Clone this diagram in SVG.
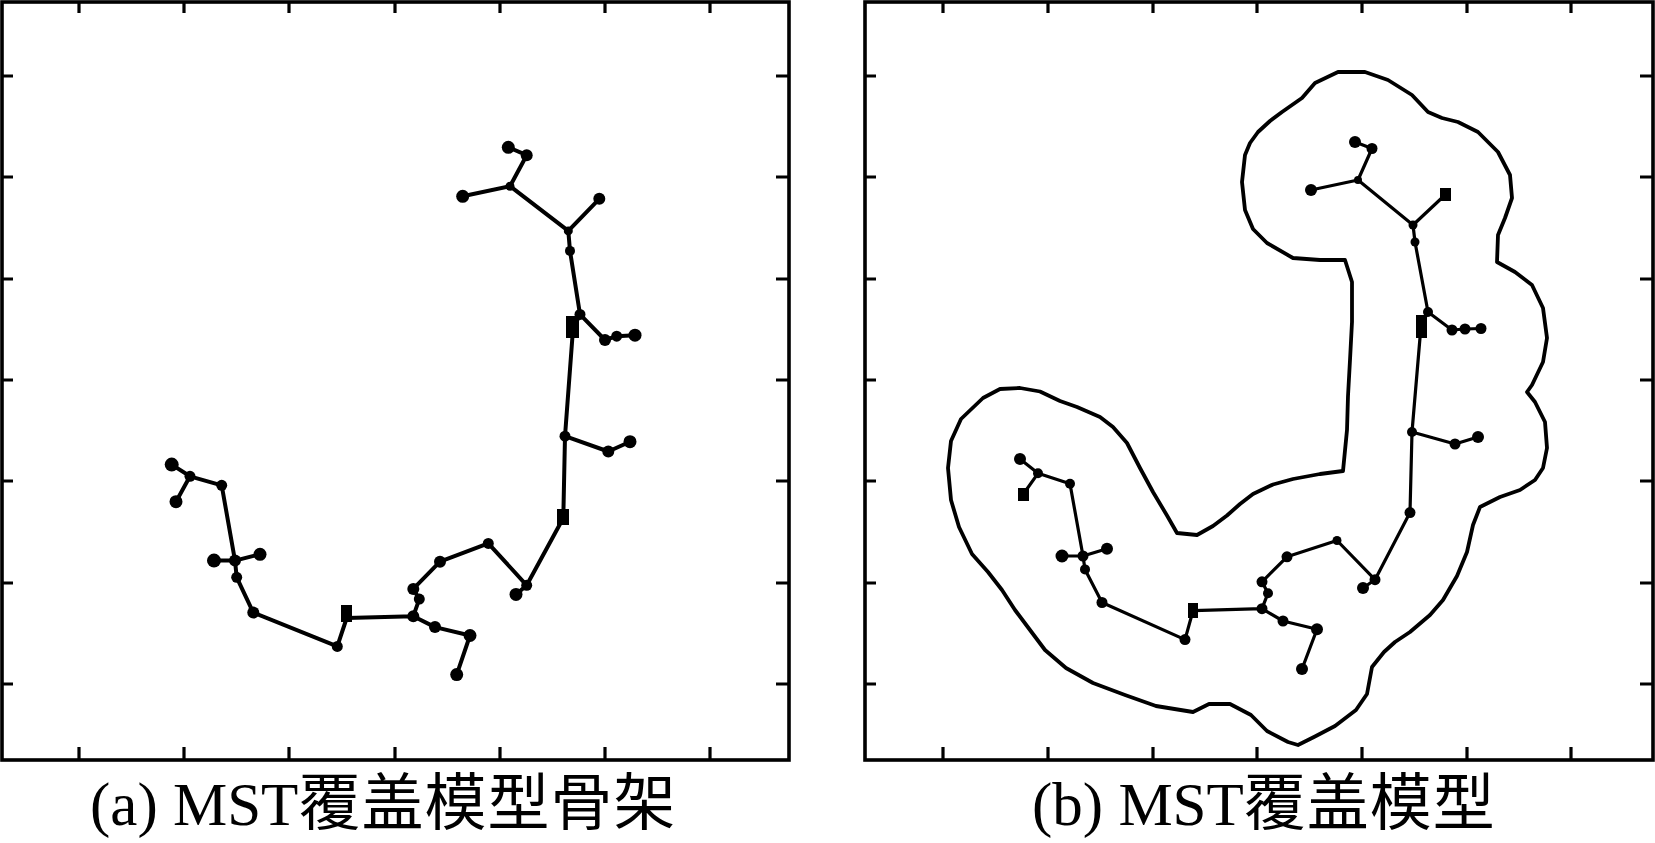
<svg xmlns="http://www.w3.org/2000/svg" width="1655" height="843" viewBox="0 0 1655 843">
<style>
.frame{fill:none;stroke:#000;stroke-width:3.6}
.tick{stroke:#000;stroke-width:3.2;fill:none}
.edge{fill:none;stroke:#000;stroke-width:4;stroke-linejoin:round;stroke-linecap:round}
.edgeb{fill:none;stroke:#000;stroke-width:3.2;stroke-linejoin:round;stroke-linecap:round}
.outline{fill:none;stroke:#000;stroke-width:3.8;stroke-linejoin:round}
.dot{fill:#000}
.cap{font-family:"Liberation Serif","Noto Sans CJK SC",serif;font-size:61px;fill:#000}
.cjk{font-family:"Noto Sans CJK SC","Liberation Serif",sans-serif;font-size:62px;letter-spacing:1px}
</style>
<rect width="1655" height="843" fill="#fff"/>

<g id="panel-a">
  <rect class="frame" x="2" y="2" width="787" height="758"/>
  <path class="tick" d="M79,760v-13M184,760v-13M289,760v-13M395,760v-13M500,760v-13M605,760v-13M710,760v-13
  M79,2v11M184,2v11M289,2v11M395,2v11M500,2v11M605,2v11M710,2v11
  M2,76h11M2,177h11M2,279h11M2,380h11M2,481h11M2,583h11M2,684h11
  M789,76h-13M789,177h-13M789,279h-13M789,380h-13M789,481h-13M789,583h-13M789,684h-13"/>
  <g id="mst-a-edges">
    <path class="edge" d="M508.3,147.3 L526.7,155.2 L510,186.2 L462.7,196.3
    M510,186.2 L568.3,230.9 L599.3,198.8
    M568.3,230.9 L570,250.9 L580,314.4 L573,329.1 L565,436.2 L563.3,518 L526.7,585.3 L516,594.4
    M580,314.4 L605,340 L616.7,336.2 L635,335.2
    M565,436.2 L608.3,451.5 L630,441.7
    M526.7,585.3 L488.3,543.4 L440,561.7 L413.3,588.9 L419.3,599.1 L413.3,616.2 L435,627.1 L470,635.5 L456.7,674.6
    M413.3,616.2 L346.7,618 L337.3,646.4 L253.3,612.6 L236.7,577.3 L235,560.6 L214,560.6
    M235,560.6 L260,554.3
    M235,560.6 L221.7,485.3 L190,476.3 L171.7,464.6
    M190,476.3 L176,501.7"/>
  </g>
  <g id="mst-a-nodes" class="dot">
    <circle cx="508.3" cy="147.3" r="6.5"/><circle cx="526.7" cy="155.2" r="6"/><circle cx="510" cy="186.2" r="4.5"/>
    <circle cx="462.7" cy="196.3" r="6.5"/><circle cx="599.3" cy="198.8" r="6"/><circle cx="568.3" cy="230.9" r="4.5"/>
    <circle cx="570" cy="250.9" r="5"/><circle cx="580" cy="314.4" r="5.5"/><rect x="566" y="316" width="13" height="22"/>
    <circle cx="605" cy="340" r="6"/><circle cx="616.7" cy="336.2" r="5.5"/><circle cx="635" cy="335.2" r="6.5"/>
    <circle cx="565" cy="436.2" r="5.5"/><circle cx="608.3" cy="451.5" r="6"/><circle cx="630" cy="441.7" r="6.5"/>
    <rect x="557" y="509" width="12" height="16"/><circle cx="526.7" cy="585.3" r="5.5"/><circle cx="516" cy="594.4" r="6.5"/>
    <circle cx="488.3" cy="543.4" r="5.5"/><circle cx="440" cy="561.7" r="6"/><circle cx="413.3" cy="588.9" r="6"/>
    <circle cx="419.3" cy="599.1" r="5.5"/><circle cx="413.3" cy="616.2" r="6"/><circle cx="435" cy="627.1" r="6"/>
    <circle cx="470" cy="635.5" r="6.5"/><circle cx="456.7" cy="674.6" r="6.5"/><rect x="341" y="605" width="11" height="17"/>
    <circle cx="337.3" cy="646.4" r="5.5"/><circle cx="253.3" cy="612.6" r="6"/><circle cx="236.7" cy="577.3" r="5.5"/>
    <circle cx="235" cy="560.6" r="6"/><circle cx="214" cy="560.6" r="7"/><circle cx="260" cy="554.3" r="6.5"/>
    <circle cx="221.7" cy="485.3" r="5.5"/><circle cx="190" cy="476.3" r="5.5"/><circle cx="171.7" cy="464.6" r="7"/>
    <circle cx="176" cy="501.7" r="6.5"/>
  </g>
</g>

<g id="panel-b">
  <rect class="frame" x="865" y="2" width="788" height="758"/>
  <path class="tick" d="M943,760v-13M1048,760v-13M1153,760v-13M1257,760v-13M1362,760v-13M1467,760v-13M1571,760v-13
  M943,2v11M1048,2v11M1153,2v11M1257,2v11M1362,2v11M1467,2v11M1571,2v11
  M865,76h11M865,177h11M865,279h11M865,380h11M865,481h11M865,583h11M865,684h11
  M1653,76h-13M1653,177h-13M1653,279h-13M1653,380h-13M1653,481h-13M1653,583h-13M1653,684h-13"/>
  <g id="coverage-outline">
    <path class="outline" d="M1345,260 L1320,260 L1293,258 L1267,243 L1253,229 L1245,210 L1242,182 L1245,155 L1250,143 L1258,132 L1270,121 L1282,112 L1302,98 L1315,83 L1338,72 L1365,72 L1388,80 L1412,95 L1428,112 L1442,118 L1458,122 L1478,132 L1498,152 L1510,175 L1512,198 L1505,218 L1498,235 L1497,262 L1515,272 L1532,285 L1543,308 L1547,338 L1543,362 L1532,385 L1527,392 L1535,402 L1545,422 L1547,448 L1543,468 L1535,480 L1520,490 L1500,497 L1480,507 L1473,525 L1467,552 L1457,576 L1443,600 L1430,615 L1410,632 L1395,642 L1384,652 L1372,667 L1367,694 L1356,710 L1335,726 L1314,737 L1298,745 L1288,742 L1267,731 L1251,715 L1230,704 L1209,704 L1193,712 L1156,706 L1125,695 L1093,683 L1066,668 L1045,650 L1030,630 L1015,610 L1002,590 L988,572 L972,554 L959,527 L951,500 L948,468 L951,441 L961,419 L983,398 L1000,389 L1020,388 L1040,391.5 L1060,401 L1077,407 L1100,417 L1113,427 L1127,443 L1140,468 L1153,492 L1167,515.5 L1177,533 L1197,535 L1213,526 L1227,515.5 L1240,504 L1253,494 L1273,484.5 L1293,479 L1320,474 L1343,471 L1347,430 L1348,396 L1350,360 L1352,322 L1352,282 Z"/>
  </g>
  <g id="mst-b-edges">
    <path class="edgeb" d="M1355,142 L1372,148.5 L1358,180 L1311,190
    M1358,180 L1413,225 L1445,195
    M1413,225 L1415,242 L1428,312 L1421,326 L1412,432 L1410,512.6 L1375,579.7 L1363,588
    M1428,312 L1452,330 L1465,329 L1481,328.5
    M1412,432 L1455,444 L1478,437
    M1375,579.7 L1337,540.5 L1287,556.8 L1262,581.8 L1268,593.2 L1262,608.7 L1283,621 L1317,629.3 L1302,669
    M1262,608.7 L1193,610.7 L1185,639.6 L1102,602.5 L1085,569.4 L1083,556 L1062,556
    M1083,556 L1107,548.7
    M1083,556 L1070,483.7 L1038,473.3 L1020,458.9
    M1038,473.3 L1023,494.5"/>
  </g>
  <g id="mst-b-nodes" class="dot">
    <circle cx="1355" cy="142" r="6"/><circle cx="1372" cy="148.5" r="5.5"/><circle cx="1358" cy="180" r="4"/>
    <circle cx="1311" cy="190" r="6"/><rect x="1440" y="188" width="11" height="13"/><circle cx="1413" cy="225" r="4.5"/>
    <circle cx="1415" cy="242" r="4.5"/><circle cx="1428" cy="312" r="5"/><rect x="1416" y="315" width="11" height="23"/>
    <circle cx="1452" cy="330" r="5.5"/><circle cx="1465" cy="329" r="5.5"/><circle cx="1481" cy="328.5" r="5.5"/>
    <circle cx="1412" cy="432" r="5"/><circle cx="1455" cy="444" r="5.5"/><circle cx="1478" cy="437" r="6"/>
    <circle cx="1410" cy="512.6" r="5.5"/><circle cx="1375" cy="579.7" r="5.5"/><circle cx="1363" cy="588" r="6"/>
    <circle cx="1337" cy="540.5" r="4.5"/><circle cx="1287" cy="556.8" r="5.5"/><circle cx="1262" cy="581.8" r="5.5"/>
    <circle cx="1268" cy="593.2" r="5"/><circle cx="1262" cy="608.7" r="5.5"/><circle cx="1283" cy="621" r="5.5"/>
    <circle cx="1317" cy="629.3" r="6"/><circle cx="1302" cy="669" r="6"/><rect x="1188" y="603" width="10" height="15"/>
    <circle cx="1185" cy="639.6" r="5.5"/><circle cx="1102" cy="602.5" r="5.5"/><circle cx="1085" cy="569.4" r="5"/>
    <circle cx="1083" cy="556" r="5.5"/><circle cx="1062" cy="556" r="6.5"/><circle cx="1107" cy="548.7" r="6"/>
    <circle cx="1070" cy="483.7" r="5"/><circle cx="1038" cy="473.3" r="5"/><circle cx="1020" cy="458.9" r="6"/>
    <rect x="1018" y="488" width="11" height="13"/>
  </g>
</g>

<g id="captions">
  <text class="cap" x="90" y="825">(a) MST<tspan class="cjk">覆盖模型骨架</tspan></text>
  <text class="cap" x="1032" y="825">(b) MST<tspan class="cjk">覆盖模型</tspan></text>
</g>
</svg>
